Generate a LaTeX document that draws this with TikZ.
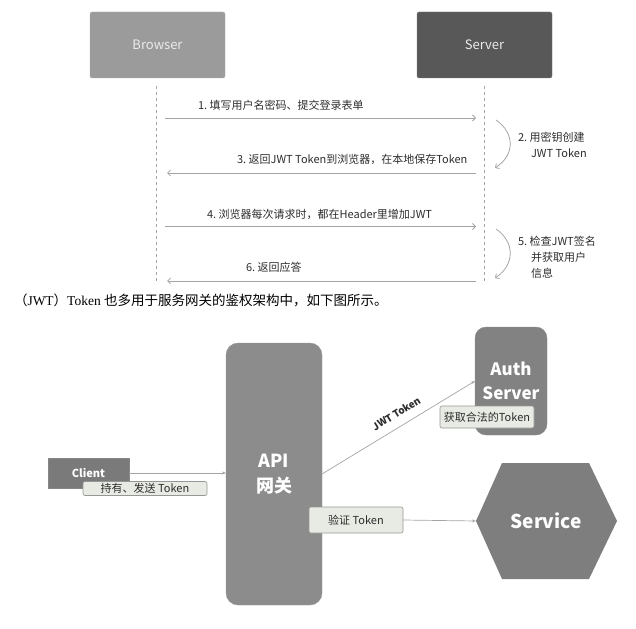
\documentclass[tikz,border=0pt]{standalone}
\usepackage{fontspec}
\newfontfamily\cjk{Noto Sans CJK SC}
\newfontfamily\bookserif{Liberation Serif}
\usetikzlibrary{arrows.meta}
\definecolor{browserfill}{RGB}{155,155,155}
\definecolor{serverfill}{RGB}{88,88,88}
\definecolor{gwfill}{RGB}{140,140,140}
\definecolor{clientfill}{RGB}{122,122,122}
\definecolor{authfill}{RGB}{130,130,130}
\definecolor{svcfill}{RGB}{126,126,126}
\definecolor{tagfill}{RGB}{232,235,228}
\definecolor{tagdraw}{RGB}{150,150,150}
\definecolor{linegray}{RGB}{165,165,165}
\definecolor{inktext}{RGB}{45,45,45}
\begin{document}
\begin{tikzpicture}[x=1pt,y=-1pt,
  every node/.style={font=\cjk,inner sep=0pt,outer sep=0pt},
  lanebox/.style={fill=#1,draw=#1!80!white,rounded corners=2pt,minimum width=135pt,minimum height=66pt,text=white!92!black,font=\cjk\fontsize{13}{15}\selectfont},
  msg/.style={draw=linegray,line width=0.8pt,-{Straight Barb[length=3pt,width=6pt]}},
  lifeline/.style={draw=linegray,line width=0.9pt,dash pattern=on 3pt off 3pt},
  msgtext/.style={anchor=west,text=inktext,font=\cjk\fontsize{11}{16}\selectfont},
  gray box/.style={fill=#1,draw=#1!90!white,text=white,font=\cjk\bfseries\fontsize{17}{24}\selectfont,align=center},
  tag/.style={fill=tagfill,draw=tagdraw,line width=0.6pt,rounded corners=2pt,text=inktext,font=\cjk\fontsize{11}{13}\selectfont},
  flow/.style={draw=linegray,line width=0.7pt,-{Stealth[length=4pt,width=3pt]}}]
\path[use as bounding box] (0,0) rectangle (636,628);
% sequence part
\node[lanebox=browserfill] (browser) at (157.5,45) {Browser};
\node[lanebox=serverfill] (server) at (484.5,45) {Server};
\coordinate (btop) at (156,86);
\coordinate (bbot) at (156,284);
\coordinate (stop) at (484,86);
\coordinate (sbot) at (484,284);
\draw[lifeline] (btop) -- (bbot);
\draw[lifeline] (stop) -- (sbot);
\coordinate (m1b) at (165,118); \coordinate (m1s) at (476,118);
\coordinate (m3b) at (167,173); \coordinate (m3s) at (476,173);
\coordinate (m4b) at (165,226.5); \coordinate (m4s) at (476,226.5);
\coordinate (m6b) at (167,281); \coordinate (m6s) at (476,281);
\draw[msg] (m1b) -- (m1s);
\draw[msg] (m3s) -- (m3b);
\draw[msg] (m4b) -- (m4s);
\draw[msg] (m6s) -- (m6b);
\node[msgtext] (t1) at (198,105) {1.\ 填写用户名密码、提交登录表单};
\node[msgtext] (t3) at (237,159.5) {3.\ 返回JWT Token到浏览器，在本地保存Token};
\node[msgtext] (t4) at (207,214) {4.\ 浏览器每次请求时，都在Header里增加JWT};
\node[msgtext] (t6) at (246,267) {6.\ 返回应答};
\coordinate (c2a) at (496,120); \coordinate (c2b) at (495,168);
\coordinate (c5a) at (496,229); \coordinate (c5b) at (495,278);
\draw[msg] (c2a) .. controls (515,133) and (515,155) .. (c2b);
\draw[msg] (c5a) .. controls (515,242) and (515,265) .. (c5b);
\node[msgtext,align=left] (t2) at (518,145) {2.\ 用密钥创建\\\hspace*{13pt}JWT Token};
\node[msgtext,align=left] (t5) at (518,257) {5.\ 检查JWT签名\\\hspace*{13pt}并获取用户\\\hspace*{13pt}信息};
% caption
\node[anchor=west,text=black,font=\fontsize{13.5}{16}\selectfont] (caption) at (14,300) {\cjk（\bookserif JWT\cjk）\bookserif Token \cjk 也多用于服务网关的鉴权架构中，如下图所示。};
% gateway part
\node[gray box=clientfill,minimum width=81pt,minimum height=30pt,font=\cjk\bfseries\fontsize{11}{13}\selectfont] (client) at (88.5,473) {Client};
\node[tag,minimum width=124pt,minimum height=14pt] (hold) at (145,488.5) {持有、发送 Token};
\node[gray box=gwfill,rounded corners=12pt,minimum width=96pt,minimum height=262pt,font=\cjk\bfseries\fontsize{18}{25}\selectfont] (apigw) at (274,474) {API\\网关};
\node[gray box=authfill,rounded corners=11pt,minimum width=72pt,minimum height=108pt] (auth) at (511,381) {Auth\\Server};
\node[tag,minimum width=94pt,minimum height=22pt] (fetch) at (487,417) {获取合法的Token};
\fill[svcfill] (476,521) -- (502,463) -- (589,463) -- (617,521) -- (589,579) -- (502,579) -- cycle;
\coordinate (svcw) at (476,521);
\node[text=white,font=\cjk\bfseries\fontsize{19}{22}\selectfont] (svc) at (546,521) {Service};
\node[tag,minimum width=94pt,minimum height=26pt] (verify) at (356,520) {验证 Token};
\draw[flow] (client.east) -- (client.east -| apigw.west);
\draw[flow] (apigw.east) -- node[pos=0.53,sloped,above=9pt,text=inktext,font=\cjk\bfseries\fontsize{10}{12}\selectfont] (jwt) {JWT Token} (auth.west);
\draw[flow] (verify.east) -- (svcw);
\end{tikzpicture}
\end{document}
